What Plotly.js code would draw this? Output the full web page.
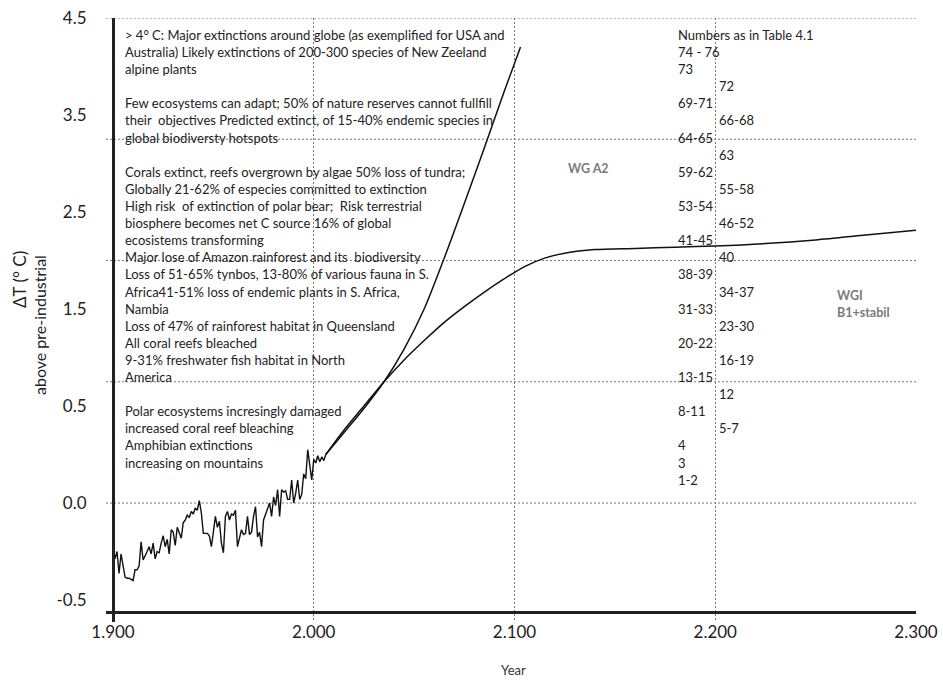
<!DOCTYPE html>
<html>
<head>
<meta charset="utf-8">
<script src="https://cdn.plot.ly/plotly-3.0.1.min.js"></script>
<style>html,body{margin:0;padding:0;background:#fff;}#chart{width:943px;height:680px;}</style>
</head>
<body>
<div id="chart"></div>
<script>
// ---------------- data ----------------
const histYears = [1900,1901,1902,1903,1904,1905,1906,1907,1908,1909,
  1910,1911,1912,1913,1914,1915,1916,1917,1918,1919,
  1920,1921,1922,1923,1924,1925,1926,1927,1928,1929,
  1930,1931,1932,1933,1934,1935,1936,1937,1938,1939,
  1940,1941,1942,1943,1944,1945,1946,1947,1948,1949,
  1950,1951,1952,1953,1954,1955,1956,1957,1958,1959,
  1960,1961,1962,1963,1964,1965,1966,1967,1968,1969,
  1970,1971,1972,1973,1974,1975,1976,1977,1978,1979,
  1980,1981,1982,1983,1984,1985,1986,1987,1988,1989,
  1990,1991,1992,1993,1994,1995,1996,1997,1998,1999,
  2000,2001,2002,2003,2004,2005,2006];
const histTemp = [-0.35,-0.46,-0.40,-0.58,-0.42,-0.52,-0.61,-0.62,-0.62,-0.63,
  -0.64,-0.55,-0.55,-0.52,-0.32,-0.47,-0.44,-0.40,-0.36,-0.42,
  -0.33,-0.46,-0.40,-0.41,-0.33,-0.27,-0.36,-0.30,-0.42,-0.22,
  -0.24,-0.35,-0.20,-0.25,-0.29,-0.16,-0.14,-0.10,-0.12,-0.07,
  -0.09,-0.04,-0.06,0.02,-0.08,-0.25,-0.25,-0.25,-0.27,-0.36,
  -0.24,-0.11,-0.20,-0.15,-0.33,-0.41,-0.11,-0.07,-0.14,-0.09,
  -0.10,-0.06,-0.36,-0.30,-0.22,-0.26,-0.25,-0.11,-0.26,-0.24,
  -0.11,-0.03,-0.28,-0.24,-0.36,-0.14,-0.09,-0.04,0.00,-0.11,
  0.05,-0.02,0.11,-0.11,0.11,0.09,0.10,0.03,0.03,0.19,
  0.00,0.08,0.19,0.03,0.07,0.24,0.20,0.44,0.30,0.19,
  0.36,0.33,0.39,0.34,0.38,0.35,0.40];

const a2Years = [2006,2015,2025,2035,2045,2055,2065,2075,2085,2095,2103];
const a2Temp  = [0.40,0.58,0.78,1.00,1.27,1.60,2.02,2.47,2.93,3.40,3.76];

const b1Years = [2006,2015,2025,2035,2045,2055,2065,2075,2085,2095,2105,2115,2125,2140,2160,2180,2200,2225,2250,2275,2300];
const b1Temp  = [0.40,0.60,0.80,1.00,1.18,1.34,1.49,1.62,1.74,1.85,1.95,2.02,2.06,2.09,2.10,2.11,2.12,2.14,2.17,2.21,2.25];

const xTickVals = [1900,2000,2100,2200,2300];
const xTickText = ["1.900","2.000","2.100","2.200","2.300"];
const yTickVals = [-0.8,0,0.8,1.6,2.4,3.2,4.0];
const yTickText = ["-0.5","0.0","0.5","1.5","2.5","3.5","4.5"];
const gridLevels = [0,1,2,3,4];

const impactLines = [
  "> 4\u00b0 C: Major extinctions around globe (as exemplified for USA and",
  "Australia) Likely extinctions of 200-300 species of New Zeeland",
  "alpine plants",
  "",
  "Few ecosystems can adapt; 50% of nature reserves cannot fullfill",
  "their  objectives Predicted extinct, of 15-40% endemic species in",
  "global biodiversty hotspots",
  "",
  "Corals extinct, reefs overgrown by algae 50% loss of tundra;",
  "Globally 21-62% of especies committed to extinction",
  "High risk  of extinction of polar bear;  Risk terrestrial",
  "biosphere becomes net C source 16% of global",
  "ecosistems transforming",
  "Major lose of Amazon rainforest and its  biodiversity",
  "Loss of 51-65% tynbos, 13-80% of various fauna in S.",
  "Africa41-51% loss of endemic plants in S. Africa,",
  "Nambia",
  "Loss of 47% of rainforest habitat in Queensland",
  "All coral reefs bleached",
  "9-31% freshwater fish habitat in North",
  "America",
  "",
  "Polar ecosystems incresingly damaged",
  "increased coral reef bleaching",
  "Amphibian extinctions",
  "increasing on mountains"
];
const numbersCol1 = ["Numbers as in Table 4.1","74 - 76","73","","69-71","","64-65","","59-62","","53-54","","41-45","","38-39","","31-33","","20-22","","13-15","","8-11","","4","3","1-2"];
const numbersCol2 = ["","","","72","","66-68","","63","","55-58","","46-52","","40","","34-37","","23-30","","16-19","","12","","5-7","","",""];

// ---------------- layout helpers (pixel -> paper) ----------------
const W = 943, H = 680, ML = 106, MR = 27, MT = 18, MB = 58;
const PW = W - ML - MR, PH = H - MT - MB;
const px = p => (p - ML) / PW;
const py = p => (H - MB - p) / PH;
const rowPx = i => 35 + 17.1 * i;

const FONT = "Lato, 'Noto Sans', sans-serif";
const annotations = [];
function addText(t, x, y, opts) {
  annotations.push(Object.assign({xref:'paper', yref:'paper', x:px(x), y:py(y), xanchor:'left', yanchor:'middle',
    text:t, showarrow:false, font:{family:FONT, size:13, color:'#222'}}, opts || {}));
}
impactLines.forEach((t, i) => { if (t) addText(t, 123, rowPx(i)); });
numbersCol1.forEach((t, i) => { if (t) addText(t, 676, rowPx(i)); });
numbersCol2.forEach((t, i) => { if (t) addText(t, 717, rowPx(i)); });
const grayFont = {family:FONT, size:12.5, color:'#7a7a7a'};
addText('<b>WG A2</b>', 566, 168, {font:grayFont});
addText('<b>WGI</b>', 835, 295, {font:grayFont});
addText('<b>B1+stabil</b>', 835, 312, {font:grayFont});
addText('\u0394T (\u00b0 C)', 19, 280, {xanchor:'center', textangle:-90, font:{family:FONT, size:17, color:'#222'}});
addText('above pre-industrial', 39, 325, {xanchor:'center', textangle:-90, font:{family:FONT, size:16, color:'#222'}});
addText('Year', 513, 670, {xanchor:'center', font:{family:FONT, size:13, color:'#333'}});

const GRID = '#777';
const shapes = gridLevels.map(v => ({type:'line', xref:'paper', yref:'y', x0:0, x1:1, y0:v, y1:v,
  layer:'below', line:{color:GRID, width:1, dash:'2px,2px'}}));

const traces = [
  {x:histYears, y:histTemp, type:'scatter', mode:'lines', line:{color:'#111', width:1.4}, hoverinfo:'skip'},
  {x:a2Years, y:a2Temp, type:'scatter', mode:'lines', line:{color:'#111', width:1.5, shape:'spline', smoothing:0.8}, hoverinfo:'skip'},
  {x:b1Years, y:b1Temp, type:'scatter', mode:'lines', line:{color:'#111', width:1.5, shape:'spline', smoothing:0.8}, hoverinfo:'skip'}
];

const layout = {
  width:W, height:H, margin:{l:ML, r:MR, t:MT, b:MB, pad:0},
  paper_bgcolor:'#fff', plot_bgcolor:'#fff', showlegend:false,
  xaxis:{range:[1900 - 7/2.0075, 2300], anchor:'free', position:10/PH,
    tickmode:'array', tickvals:xTickVals, ticktext:xTickText, ticks:'', ticklabelstandoff:4,
    showgrid:true, gridcolor:GRID, gridwidth:1, griddash:'2px,2px', zeroline:false,
    showline:true, linecolor:'#222', linewidth:3,
    tickfont:{family:FONT, size:17, color:'#222'}},
  yaxis:{range:[-0.981, 4.0], anchor:'free', position:7/PW,
    tickmode:'array', tickvals:yTickVals, ticktext:yTickText, ticks:'', ticklabelstandoff:22,
    showgrid:false, zeroline:false, showline:true, linecolor:'#222', linewidth:2.5,
    tickfont:{family:FONT, size:17, color:'#222'}},
  shapes:shapes, annotations:annotations
};
Plotly.newPlot('chart', traces, layout, {staticPlot:true, displayModeBar:false});
</script>
</body>
</html>
